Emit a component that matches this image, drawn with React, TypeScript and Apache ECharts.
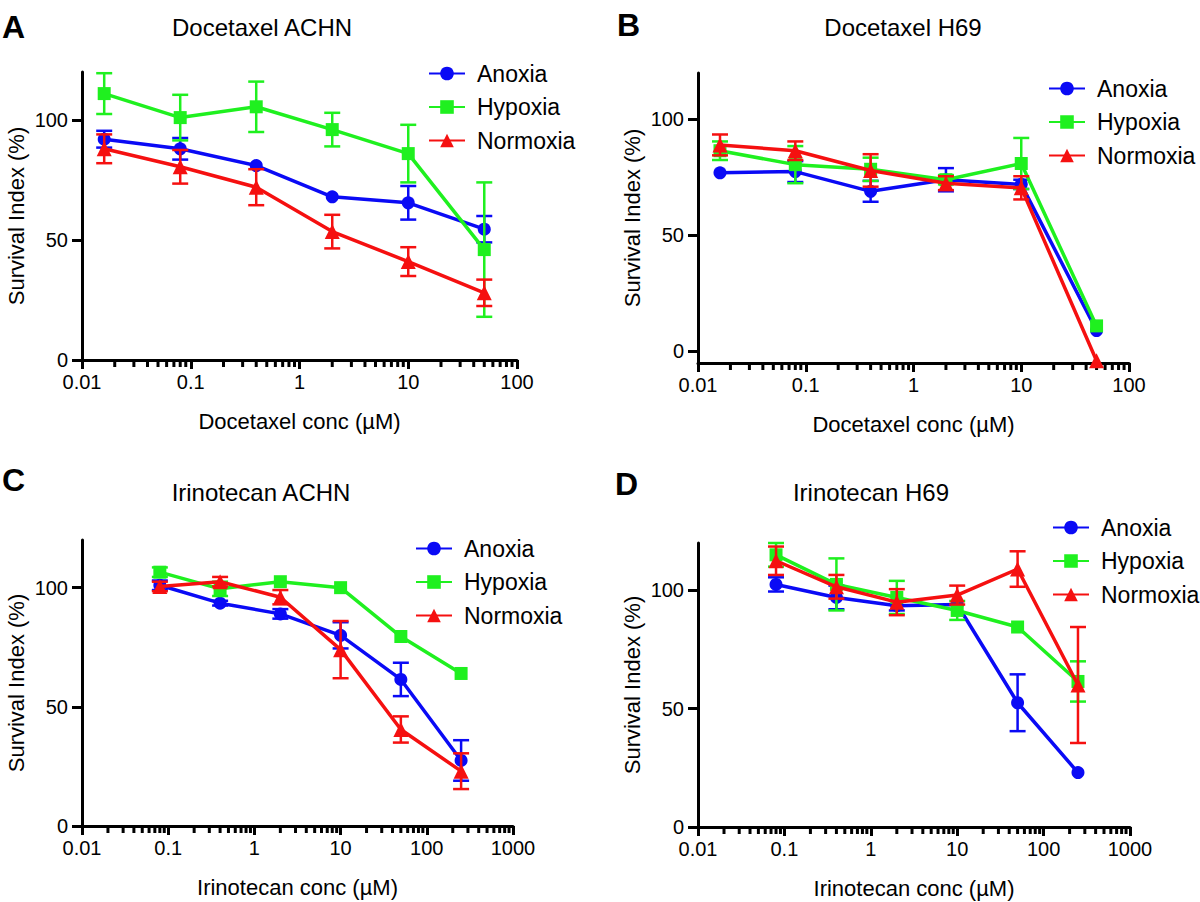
import React, { useEffect, useRef } from 'react';
import * as echarts from 'echarts';

// ---------- data ----------
const docetaxelConc = [0.016, 0.08, 0.4, 2, 10, 50];
const irinotecanConc = [0.08, 0.4, 2, 10, 50, 250];
const seriesNames = ['Anoxia', 'Hypoxia', 'Normoxia'];
const yTickValues = [0, 50, 100];
const minorMultipliers = [2, 3, 4, 5, 6, 7, 8, 9];

// Panel A: Docetaxel ACHN
const aAnoxia = [92, 88, 81, 68, 65.5, 54.5];
const aAnoxiaErr = [3.5, 4.5, 0, 0, 7, 5.5];
const aHypoxia = [111, 101, 105.5, 96, 86, 46];
const aHypoxiaErr = [8.5, 9.5, 10.5, 7, 12, 28];
const aNormoxia = [88, 80.5, 72, 53.5, 41, 28];
const aNormoxiaErr = [6, 7, 7.5, 7, 6, 5.5];

// Panel B: Docetaxel H69
const bAnoxia = [77, 77.5, 69, 74, 72, 9];
const bAnoxiaErr = [0, 4.5, 4.5, 5, 2, 0];
const bHypoxia = [86.5, 80.5, 78.5, 74, 81, 11];
const bHypoxiaErr = [4, 8, 5, 2, 11, 0];
const bNormoxia = [89, 86.5, 78, 72.5, 70.5, -4];
const bNormoxiaErr = [4.5, 4, 7, 3, 5, 0];

// Panel C: Irinotecan ACHN
const cAnoxia = [101, 93.5, 89, 80, 61.5, 27.5];
const cAnoxiaErr = [2, 1, 2, 5.5, 7, 8.5];
const cHypoxia = [106.5, 99.5, 102.5, 100, 79.5, 64];
const cHypoxiaErr = [2, 3, 0, 0, 0, 0];
const cNormoxia = [100.5, 102.5, 96, 74, 40.5, 23];
const cNormoxiaErr = [2, 2, 3, 12, 5.5, 7.5];

// Panel D: Irinotecan H69
const dAnoxia = [102.5, 97, 93.5, 94, 52.5, 23];
const dAnoxiaErr = [3, 5, 2, 0, 12, 0];
const dHypoxia = [115, 102.5, 97, 91.5, 84.5, 61.5];
const dHypoxiaErr = [5, 11, 7, 4, 0, 8.5];
const dNormoxia = [112.5, 101.5, 95, 98, 109, 60];
const dNormoxiaErr = [6, 5, 5.5, 4, 7.5, 24.5];

const titles = ['Docetaxel ACHN', 'Docetaxel H69', 'Irinotecan ACHN', 'Irinotecan H69'];
const letters = ['A', 'B', 'C', 'D'];
const xNames = ['Docetaxel conc (µM)', 'Docetaxel conc (µM)', 'Irinotecan conc (µM)', 'Irinotecan conc (µM)'];
const yName = 'Survival Index (%)';

// ---------- styles / layout ----------
const FONT = "'Liberation Sans', Arial, Helvetica, sans-serif";
const colors = ['#0a0af5', '#1ff01f', '#f51010'];
const symbols = ['circle', 'rect', 'triangle'];
const symbolSizes = [13, 13, 15];

const panels = [
  {
    grid: { left: 82, top: 72, width: 435, height: 288 },
    xMin: 0.01, xMax: 100, yMin: 0, yMax: 120,
    conc: docetaxelConc,
    means: [aAnoxia, aHypoxia, aNormoxia], errs: [aAnoxiaErr, aHypoxiaErr, aNormoxiaErr],
    title: [262, 27], letter: [2, 27], legend: [423, 57],
  },
  {
    grid: { left: 698, top: 73, width: 431, height: 290 },
    xMin: 0.01, xMax: 100, yMin: -5, yMax: 120,
    conc: docetaxelConc,
    means: [bAnoxia, bHypoxia, bNormoxia], errs: [bAnoxiaErr, bHypoxiaErr, bNormoxiaErr],
    title: [903, 27], letter: [617, 25], legend: [1043, 72],
  },
  {
    grid: { left: 82, top: 540, width: 431, height: 286 },
    xMin: 0.01, xMax: 1000, yMin: 0, yMax: 120,
    conc: irinotecanConc,
    means: [cAnoxia, cHypoxia, cNormoxia], errs: [cAnoxiaErr, cHypoxiaErr, cNormoxiaErr],
    title: [261, 492], letter: [2, 480], legend: [410, 532],
  },
  {
    grid: { left: 698, top: 543, width: 432, height: 284 },
    xMin: 0.01, xMax: 1000, yMin: 0, yMax: 120,
    conc: irinotecanConc,
    means: [dAnoxia, dHypoxia, dNormoxia], errs: [dAnoxiaErr, dHypoxiaErr, dNormoxiaErr],
    title: [871, 492], letter: [615, 484], legend: [1047, 511],
  },
];

function fmtLog(v: number) {
  return String(parseFloat(Number(v).toPrecision(4)));
}

function buildOption() {
  const grids: any[] = [];
  const xAxes: any[] = [];
  const yAxes: any[] = [];
  const series: any[] = [];
  const legends: any[] = [];
  const graphics: any[] = [];

  panels.forEach((p, i) => {
    grids.push({ ...p.grid, containLabel: false });
    xAxes.push({
      type: 'log', logBase: 10, gridIndex: i, min: p.xMin, max: p.xMax,
      name: xNames[i], nameLocation: 'middle', nameGap: 50,
      nameTextStyle: { fontSize: 22, color: '#000', fontFamily: FONT },
      axisLine: { show: true, onZero: false, lineStyle: { color: '#000', width: 3 } },
      axisTick: { show: true, length: 9, lineStyle: { color: '#000', width: 3 } },
      axisLabel: { fontSize: 20, color: '#000', fontFamily: FONT, margin: 12, formatter: fmtLog },
      splitLine: { show: false },
    });
    const yAx: any = {
      type: 'value', gridIndex: i, min: p.yMin, max: p.yMax,
      name: yName, nameLocation: 'middle', nameGap: 55,
      nameTextStyle: { fontSize: 22, color: '#000', fontFamily: FONT },
      axisLine: { show: true, onZero: false, lineStyle: { color: '#000', width: 3 } },
      axisTick: { show: true, length: 10, lineStyle: { color: '#000', width: 3 }, customValues: yTickValues },
      axisLabel: { fontSize: 20, color: '#000', fontFamily: FONT, margin: 14, customValues: yTickValues },
      splitLine: { show: false },
    };
    if (p.yMin === 0) yAx.interval = 50;
    yAxes.push(yAx);

    // minor ticks on log axis
    const minorData: number[][] = [];
    const d0 = Math.round(Math.log10(p.xMin));
    const d1 = Math.round(Math.log10(p.xMax));
    for (let d = d0; d < d1; d++) {
      minorMultipliers.forEach((m) => minorData.push([parseFloat((m * Math.pow(10, d)).toPrecision(4)), p.yMin]));
    }
    series.push({
      type: 'custom', xAxisIndex: i, yAxisIndex: i, silent: true, clip: false, z: 1,
      data: minorData,
      renderItem: (params: any, api: any) => {
        const c = api.coord([api.value(0), api.value(1)]);
        return {
          type: 'line',
          shape: { x1: c[0], y1: c[1], x2: c[0], y2: c[1] + 7 },
          style: { stroke: '#000', lineWidth: 3 },
        };
      },
    });

    for (let s = 0; s < 3; s++) {
      const mean = p.means[s];
      const err = p.errs[s];
      const errData: number[][] = [];
      p.conc.forEach((x, k) => {
        if (err[k] > 0) errData.push([x, mean[k] - err[k], mean[k] + err[k]]);
      });
      const color = colors[s];
      series.push({
        type: 'custom', name: seriesNames[s] + ' error', xAxisIndex: i, yAxisIndex: i,
        silent: true, clip: false, z: 2 + s * 2,
        data: errData,
        encode: { x: 0, y: [1, 2] },
        renderItem: (params: any, api: any) => {
          const x = api.value(0);
          const lo = api.coord([x, api.value(1)]);
          const hi = api.coord([x, api.value(2)]);
          const hw = 8;
          const st = { stroke: color, lineWidth: 2.5 };
          return {
            type: 'group',
            children: [
              { type: 'line', shape: { x1: lo[0], y1: lo[1], x2: hi[0], y2: hi[1] }, style: st },
              { type: 'line', shape: { x1: lo[0] - hw, y1: lo[1], x2: lo[0] + hw, y2: lo[1] }, style: st },
              { type: 'line', shape: { x1: hi[0] - hw, y1: hi[1], x2: hi[0] + hw, y2: hi[1] }, style: st },
            ],
          };
        },
      });
      series.push({
        type: 'line', name: seriesNames[s], xAxisIndex: i, yAxisIndex: i,
        z: 3 + s * 2, clip: false,
        data: p.conc.map((x, k) => [x, mean[k]]),
        symbol: symbols[s], symbolSize: symbolSizes[s], showSymbol: true,
        lineStyle: { color, width: 3.5 },
        itemStyle: { color, borderWidth: 0 },
        emphasis: { disabled: true },
      });
    }

    legends.push({
      orient: 'vertical', left: p.legend[0], top: p.legend[1],
      data: seriesNames, selectedMode: false,
      itemWidth: 36, itemHeight: 17, itemGap: 10.5,
      textStyle: { fontSize: 23, color: '#000', fontFamily: FONT, padding: [0, 0, 0, 7] },
    });

    graphics.push({
      type: 'text', x: p.title[0], y: p.title[1],
      style: { text: titles[i], fill: '#000', font: `24px ${FONT}`, textAlign: 'center', textVerticalAlign: 'middle' },
    });
    graphics.push({
      type: 'text', x: p.letter[0], y: p.letter[1],
      style: { text: letters[i], fill: '#000', font: `bold 32px ${FONT}`, textAlign: 'left', textVerticalAlign: 'middle' },
    });
  });

  return {
    animation: false,
    backgroundColor: '#fff',
    textStyle: { fontFamily: FONT },
    grid: grids,
    xAxis: xAxes,
    yAxis: yAxes,
    legend: legends,
    series,
    graphic: graphics,
  };
}

export default function App() {
  const ref = useRef<HTMLDivElement>(null);
  useEffect(() => {
    if (!ref.current) return;
    const chart = echarts.init(ref.current, null, { renderer: 'svg' });
    chart.setOption(buildOption() as any);
    return () => chart.dispose();
  }, []);
  return (
    <div
      ref={ref}
      style={{ position: 'absolute', left: 0, top: 0, width: 1200, height: 902, background: '#fff' }}
    />
  );
}
